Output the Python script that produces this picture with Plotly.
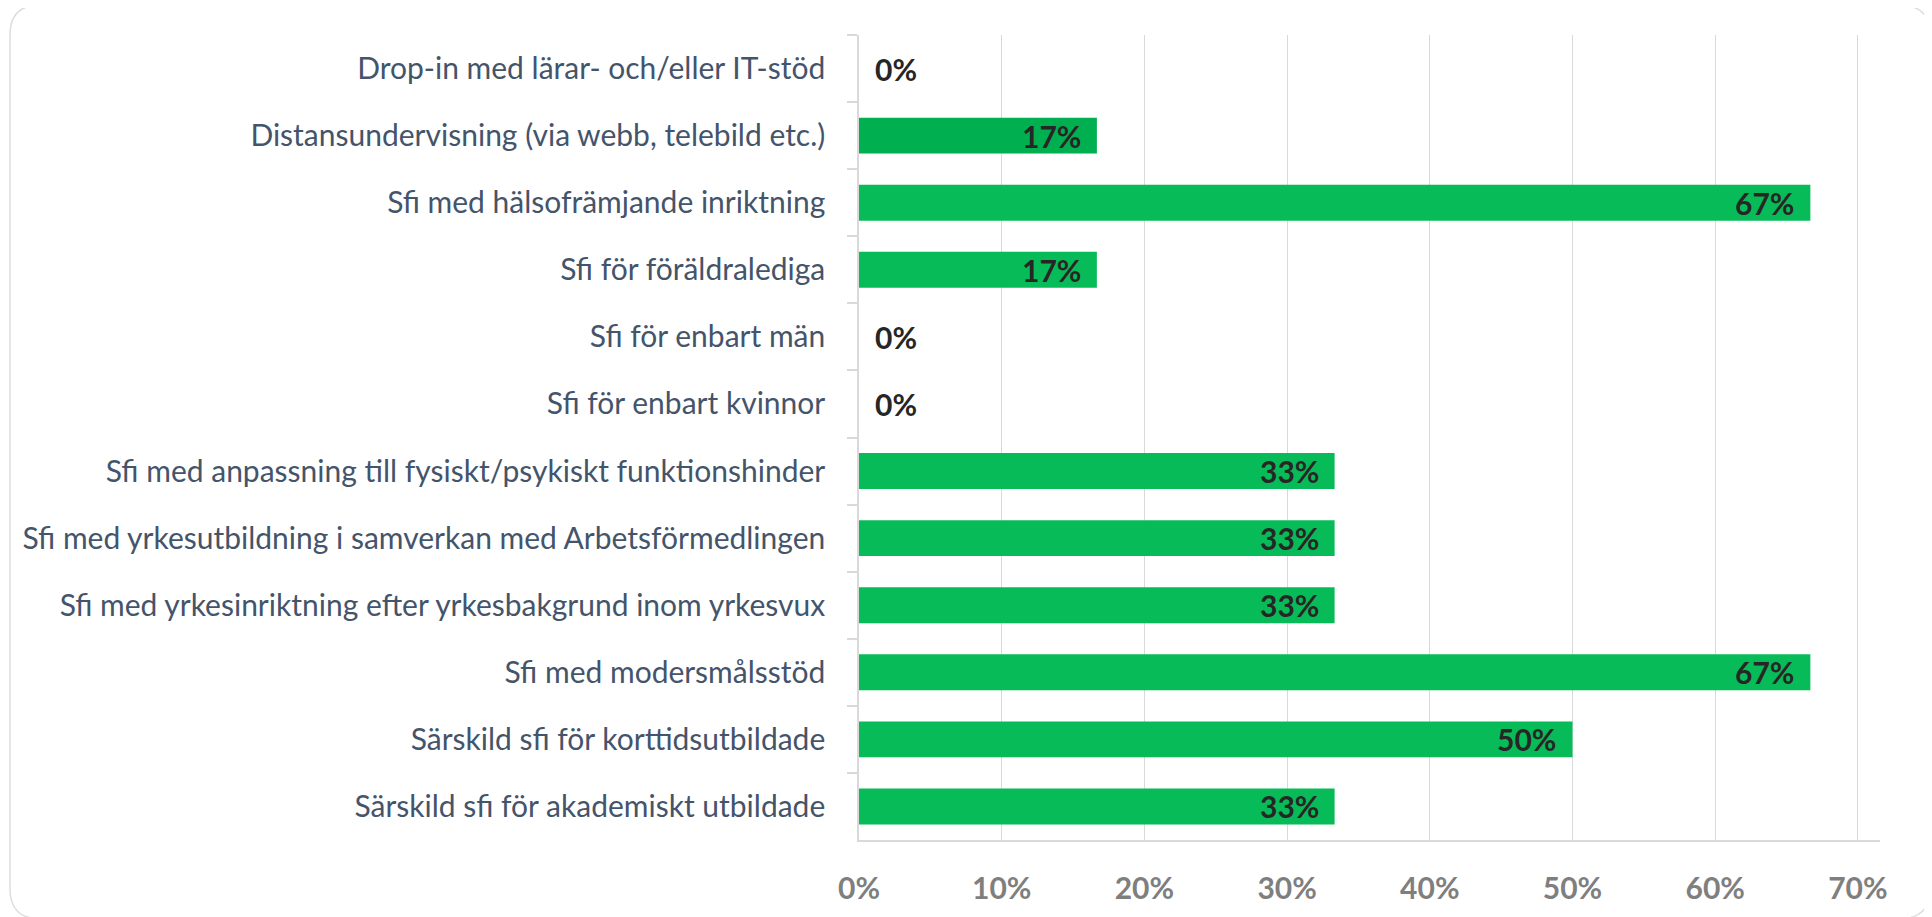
import plotly.graph_objects as go

categories = [
    "Drop-in med lärar- och/eller IT-stöd",
    "Distansundervisning (via webb, telebild etc.)",
    "Sfi med hälsofrämjande inriktning",
    "Sfi för föräldralediga",
    "Sfi för enbart män",
    "Sfi för enbart kvinnor",
    "Sfi med anpassning till fysiskt/psykiskt funktionshinder",
    "Sfi med yrkesutbildning i samverkan med Arbetsförmedlingen",
    "Sfi med yrkesinriktning efter yrkesbakgrund inom yrkesvux",
    "Sfi med modersmålsstöd",
    "Särskild sfi för korttidsutbildade",
    "Särskild sfi för akademiskt utbildade",
]
values = [0.0, 16.67, 66.67, 16.67, 0.0, 0.0, 33.33, 33.33, 33.33, 66.67, 50.0, 33.33]
x_ticks = [0, 10, 20, 30, 40, 50, 60, 70]
x_tick_labels = ["0%", "10%", "20%", "30%", "40%", "50%", "60%", "70%"]

OFF = 8  # page body margin
W, H = 1932 - OFF, 917 - OFF
L, R, T, B = 859 - OFF, 1880 - OFF, 35 - OFF, 843 - OFF
XMAX = 71.55

bar_colors = ["#00B050" if i == 1 else "#07BC58" for i in range(len(values))]

FONT = "Lato, Carlito, Calibri, sans-serif"

fig = go.Figure(go.Bar(
    y=categories, x=values, orientation="h",
    marker=dict(color=bar_colors, line=dict(width=0)),
    width=0.535, hoverinfo="skip",
))

annotations = []
for c, v in zip(categories, values):
    if v > 0:
        annotations.append(dict(x=v, y=c, xref="x", yref="y", text=f"<b>{v:.0f}%</b>",
                                showarrow=False, xanchor="right", xshift=-14,
                                font=dict(family=FONT, size=30, color="#262626")))
    else:
        annotations.append(dict(x=v, y=c, xref="x", yref="y", text=f"<b>{v:.0f}%</b>",
                                showarrow=False, xanchor="left", xshift=14,
                                font=dict(family=FONT, size=30, color="#262626")))

def px2paper(px, py):
    return (px - L) / (R - L), (B - py) / (B - T)

# rounded card border (page pixel coords, shifted by body margin)
cx0, cy0, cx1, cy1, rad = 10 - OFF, 5 - OFF, 1930 - OFF, 922 - OFF, 30
def P(x, y):
    a, b = px2paper(x, y)
    return f"{a:.5f},{b:.5f}"
path = (f"M {P(cx0 + rad, cy0)} L {P(cx1 - rad, cy0)} Q {P(cx1, cy0)} {P(cx1, cy0 + rad)} "
        f"L {P(cx1, cy1 - rad)} Q {P(cx1, cy1)} {P(cx1 - rad, cy1)} "
        f"L {P(cx0 + rad, cy1)} Q {P(cx0, cy1)} {P(cx0, cy1 - rad)} "
        f"L {P(cx0, cy0 + rad)} Q {P(cx0, cy0)} {P(cx0 + rad, cy0)} Z")

fig.update_layout(
    width=W, height=H,
    margin=dict(l=L, r=W - R, t=T, b=H - B, pad=0),
    paper_bgcolor="white", plot_bgcolor="white",
    showlegend=False,
    annotations=annotations,
    shapes=[dict(type="path", path=path, xref="paper", yref="paper",
                 line=dict(color="#DDDDDD", width=1.5), fillcolor="rgba(0,0,0,0)", layer="below")],
    xaxis=dict(range=[0, XMAX], tickvals=x_ticks, ticktext=x_tick_labels,
               showgrid=True, gridcolor="#D9D9D9", gridwidth=1,
               showline=True, linecolor="#D9D9D9", linewidth=1.5,
               zeroline=False, ticks="", ticklabelstandoff=21,
               tickfont=dict(family=FONT, size=30, color="#7F7F7F", weight="bold"),
               fixedrange=True),
    yaxis=dict(categoryorder="array", categoryarray=categories, autorange="reversed",
               showgrid=False, showline=True, linecolor="#D9D9D9", linewidth=1.5,
               ticks="outside", tickson="boundaries", ticklen=10, tickcolor="#D9D9D9",
               tickwidth=1.5, ticklabelstandoff=26,
               tickfont=dict(family=FONT, size=30, color="#44546A"),
               fixedrange=True),
)

fig.write_html("out.html")
